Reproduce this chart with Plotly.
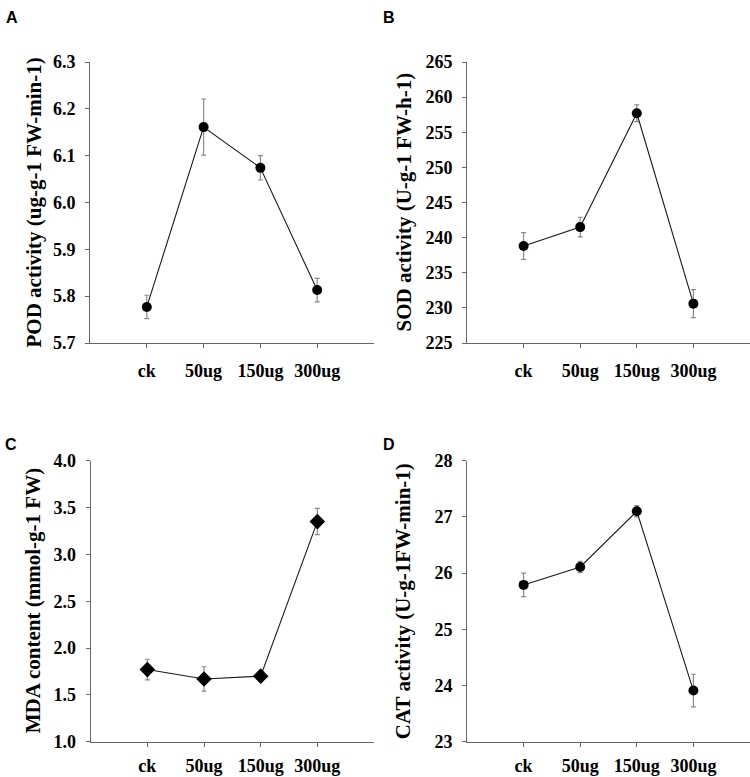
import plotly.graph_objects as go

categories = ["ck", "50ug", "150ug", "300ug"]

pod_values = [5.777, 6.161, 6.074, 5.813]
pod_errors = [0.025, 0.060, 0.026, 0.025]

sod_values = [238.8, 241.5, 257.7, 230.6]
sod_errors = [1.9, 1.4, 1.2, 2.0]

mda_values = [1.77, 1.67, 1.70, 3.35]
mda_errors = [0.11, 0.13, 0.05, 0.14]

cat_values = [25.79, 26.11, 27.10, 23.91]
cat_errors = [0.21, 0.10, 0.10, 0.29]

W, H = 750, 777
SERIF = "Liberation Serif, Times New Roman, serif"
SANS = "Liberation Sans, Arial, sans-serif"

panels = [
    dict(v=pod_values, e=pod_errors, sym="circle", yr=[5.7, 6.3], dt=0.1, fmt=".1f",
         title="POD activity (ug-g-1 FW-min-1)", xd=(90, 374), yd=(62, 343),
         lab="A", lx=12, ly=18, tx=33, so=7),
    dict(v=sod_values, e=sod_errors, sym="circle", yr=[225, 265], dt=5, fmt="d",
         title="SOD activity (U-g-1 FW-h-1)", xd=(467, 750), yd=(62, 343),
         lab="B", lx=389, ly=18, tx=403, so=7),
    dict(v=mda_values, e=mda_errors, sym="diamond", yr=[1.0, 4.0], dt=0.5, fmt=".1f",
         title="MDA content (mmol-g-1 FW)", xd=(90.7, 374), yd=(460.7, 741.7),
         lab="C", lx=11, ly=444, tx=33, so=4),
    dict(v=cat_values, e=cat_errors, sym="circle", yr=[23, 28], dt=1, fmt="d",
         title="CAT activity (U-g-1FW-min-1)", xd=(467, 750), yd=(460.7, 741.7),
         lab="D", lx=389, ly=444, tx=403, so=4),
]

fig = go.Figure()
annotations = []
for i, p in enumerate(panels, start=1):
    xa = "x" if i == 1 else f"x{i}"
    ya = "y" if i == 1 else f"y{i}"
    fig.add_trace(go.Scatter(
        x=list(range(len(categories))), y=p["v"],
        mode="lines+markers",
        line=dict(color="#1a1a1a", width=1.1),
        marker=dict(symbol=p["sym"], size=10 if p["sym"] == "circle" else 12, color="black"),
        error_y=dict(type="data", array=p["e"], visible=True, color="#8a8a8a",
                     thickness=1.2, width=2.5),
        xaxis=xa, yaxis=ya, showlegend=False, cliponaxis=False,
    ))
    xkey = "xaxis" if i == 1 else f"xaxis{i}"
    ykey = "yaxis" if i == 1 else f"yaxis{i}"
    x0, x1 = p["xd"]
    y0, y1 = p["yd"]
    fig.layout[xkey] = dict(
        domain=[x0 / W, min(x1 / W, 1.0)], anchor=ya,
        range=[-1, 4], tickmode="array", tickvals=list(range(len(categories))),
        ticktext=categories, showline=True, linecolor="#666666", linewidth=1,
        ticks="outside", ticklen=4, tickcolor="#666666", tickwidth=1,
        showgrid=False, zeroline=False, automargin=False,
        ticklabelstandoff=p["so"],
        tickfont=dict(family=SERIF, size=18, color="black", weight="bold"),
    )
    fig.layout[ykey] = dict(
        domain=[1 - y1 / H, 1 - y0 / H], anchor=xa,
        range=p["yr"], tickmode="linear", tick0=p["yr"][0], dtick=p["dt"],
        tickformat=p["fmt"], showline=True, linecolor="#666666", linewidth=1,
        ticks="outside", ticklen=4, tickcolor="#666666", tickwidth=1,
        showgrid=False, zeroline=False, automargin=False,
        ticklabelstandoff=6,
        tickfont=dict(family=SERIF, size=18, color="black", weight="bold"),
    )
    annotations.append(dict(
        text=p["title"], xref="paper", yref="paper",
        x=p["tx"] / W, y=1 - (y0 + y1) / 2 / H, textangle=-90,
        showarrow=False, xanchor="center", yanchor="middle",
        font=dict(family=SERIF, size=21, color="black", weight="bold"),
    ))
    annotations.append(dict(
        text=p["lab"], xref="paper", yref="paper",
        x=p["lx"] / W, y=1 - p["ly"] / H, showarrow=False,
        xanchor="center", yanchor="middle",
        font=dict(family=SANS, size=16, color="black", weight="bold"),
    ))

fig.update_layout(
    width=W, height=H, template="none",
    margin=dict(l=0, r=0, t=0, b=0, autoexpand=False),
    paper_bgcolor="white", plot_bgcolor="white",
    annotations=annotations,
)

fig.write_html("out.html", config={"displayModeBar": False},
               post_script="document.body.style.margin='0';document.body.style.overflow='hidden';")
